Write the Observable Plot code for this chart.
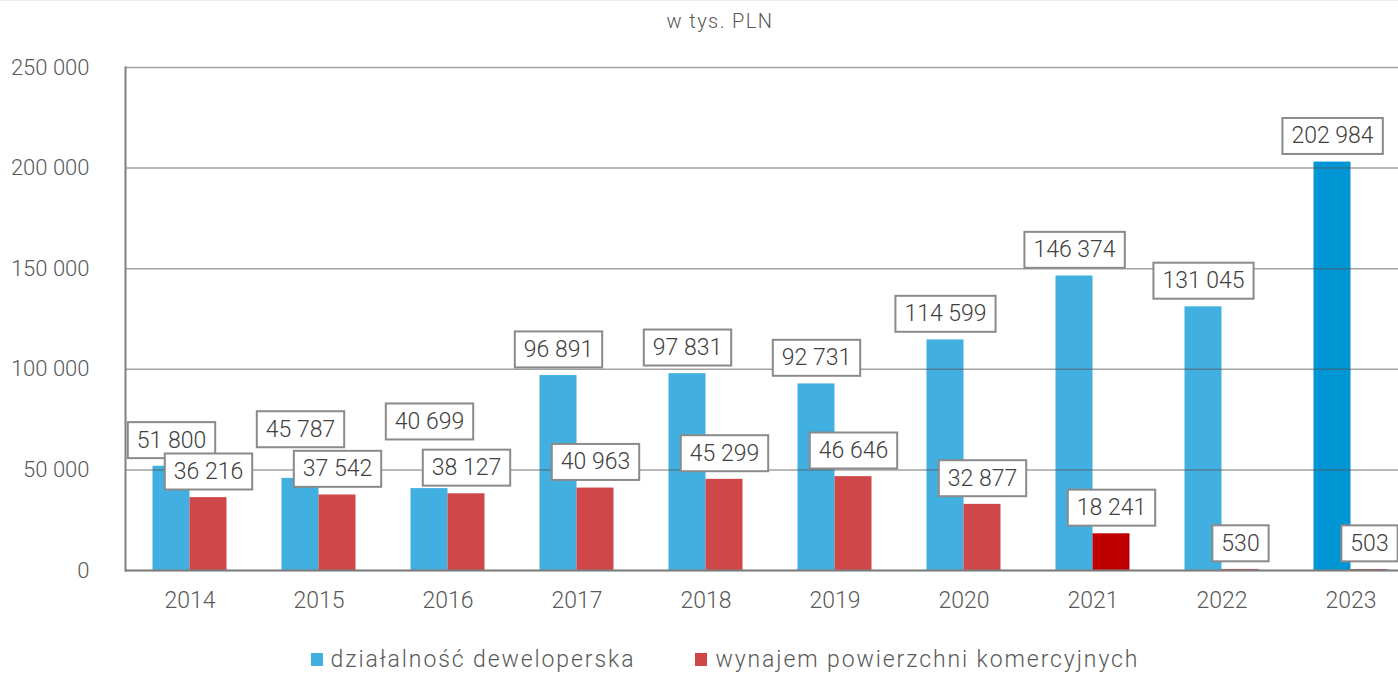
<!DOCTYPE html>
<html>
<head>
<meta charset="utf-8">
<script src="https://cdn.jsdelivr.net/npm/d3@7"></script>
<script src="https://cdn.jsdelivr.net/npm/@observablehq/plot@0.6"></script>
<style>
  html, body { margin: 0; padding: 0; background: #fff; }
  body { width: 1398px; height: 673px; overflow: hidden; position: relative;
         font-family: Roboto, "Open Sans", sans-serif; font-weight: 300; color: #595959;
         border-top: 1px solid #eee; box-sizing: border-box; }
  #title { position: absolute; top: 0; left: 720px; transform: translateX(-50%);
           height: 40px; line-height: 40px; font-size: 20px; letter-spacing: 1.4px; white-space: nowrap; }
  #chart { position: absolute; top: 40px; left: 0; }
  #legend { position: absolute; top: 637px; left: 0; width: 1398px; height: 42px;
            display: flex; justify-content: center; align-items: center; gap: 60px;
            font-size: 23px; padding-left: 52px; box-sizing: border-box; }
  .item { display: flex; align-items: center; gap: 8px; letter-spacing: 1.9px; }
  .sw { width: 12px; height: 13px; display: inline-block; }
  #chart svg text { font-family: Roboto, "Open Sans", sans-serif; font-weight: 300; }
</style>
</head>
<body>
<div id="title">w tys. PLN</div>
<div id="chart"></div>
<div id="legend"></div>
<script>
// ---- data ----
const years = ["2014", "2015", "2016", "2017", "2018", "2019", "2020", "2021", "2022", "2023"];
const seriesNames = ["działalność deweloperska", "wynajem powierzchni komercyjnych"];
const developer = [51800, 45787, 40699, 96891, 97831, 92731, 114599, 146374, 131045, 202984];
const rental = [36216, 37542, 38127, 40963, 45299, 46646, 32877, 18241, 530, 503];
const yTicks = [0, 50000, 100000, 150000, 200000, 250000];

// ---- styling ----
const baseColors = ["#41B0E1", "#D0474A"];
const highlight = { "2023|0": "#0096D6", "2021|1": "#C00000" }; // highlighted bars
const labelNudge = { "2015|0": -23, "2016|0": -41 };            // manual label lifts (px)

const locale = d3.formatLocale({ decimal: ",", thousands: " ", grouping: [3], currency: ["", " zł"] });
const fmt = locale.format(",.0f");

const rows = years.flatMap((yr, i) => [
  { year: yr, s: 0, series: seriesNames[0], value: developer[i] },
  { year: yr, s: 1, series: seriesNames[1], value: rental[i] }
]);
const key = d => d.year + "|" + d.s;
const colorOf = d => highlight[key(d)] || baseColors[d.s];
const dev = rows.filter(d => d.s === 0);
const ren = rows.filter(d => d.s === 1);

// one text mark per distinct nudge (dx/dy must be constants)
const labelMarks = (data, dx) => {
  const groups = d3.group(data, d => labelNudge[key(d)] || 0);
  return Array.from(groups, ([nudge, g]) => Plot.text(g, {
    x: "year", y: "value", text: d => fmt(d.value), dx, dy: -26 + nudge,
    lineAnchor: "middle", fontSize: 23, fill: "#404040", className: "vlabel"
  }));
};

const chart = Plot.plot({
  width: 1398, height: 590,
  marginLeft: 125, marginRight: 0, marginTop: 26, marginBottom: 61,
  style: { fontSize: "22px", color: "#595959", background: "transparent" },
  x: { domain: years, range: [125, 1415], padding: 0, label: null },
  y: { domain: [0, 250000], label: null },
  marks: [
    Plot.barY(dev, { x: "year", y: "value", fill: colorOf, insetLeft: 27.5, insetRight: 64.5 }),
    Plot.barY(ren, { x: "year", y: "value", fill: colorOf, insetLeft: 64.5, insetRight: 27.5 }),
    Plot.gridY(yTicks, { stroke: "#555", strokeOpacity: 0.55, strokeWidth: 1.5 }),
    Plot.ruleY([0], { stroke: "#808080", strokeWidth: 2 }),
    Plot.frame({ anchor: "left", stroke: "#808080", strokeWidth: 2 }),
    Plot.axisY(yTicks, { tickSize: 0, tickPadding: 36, tickFormat: fmt, fontSize: 22 }),
    Plot.axisX({ tickSize: 0, tickPadding: 21, fontSize: 23 }),
    ...labelMarks(dev, -18.5),
    ...labelMarks(ren, 18.5)
  ]
});
document.getElementById("chart").appendChild(chart);

// draw white boxes with grey border behind value labels
chart.querySelectorAll("g.vlabel text").forEach(t => {
  const b = t.getBBox();
  const cy = b.y + b.height / 2;
  const r = document.createElementNS("http://www.w3.org/2000/svg", "rect");
  r.setAttribute("x", b.x - 9);
  r.setAttribute("y", cy - 18);
  r.setAttribute("width", b.width + 18);
  r.setAttribute("height", 36);
  r.setAttribute("fill", "#fff");
  r.setAttribute("stroke", "#8a8a8a");
  r.setAttribute("stroke-width", 2);
  if (t.getAttribute("transform")) r.setAttribute("transform", t.getAttribute("transform"));
  t.parentNode.insertBefore(r, t);
});

// legend
const legend = document.getElementById("legend");
seriesNames.forEach((name, i) => {
  const item = document.createElement("div");
  item.className = "item";
  const sw = document.createElement("span");
  sw.className = "sw";
  sw.style.background = baseColors[i];
  const tx = document.createElement("span");
  tx.textContent = name;
  item.appendChild(sw); item.appendChild(tx);
  legend.appendChild(item);
});
</script>
</body>
</html>
